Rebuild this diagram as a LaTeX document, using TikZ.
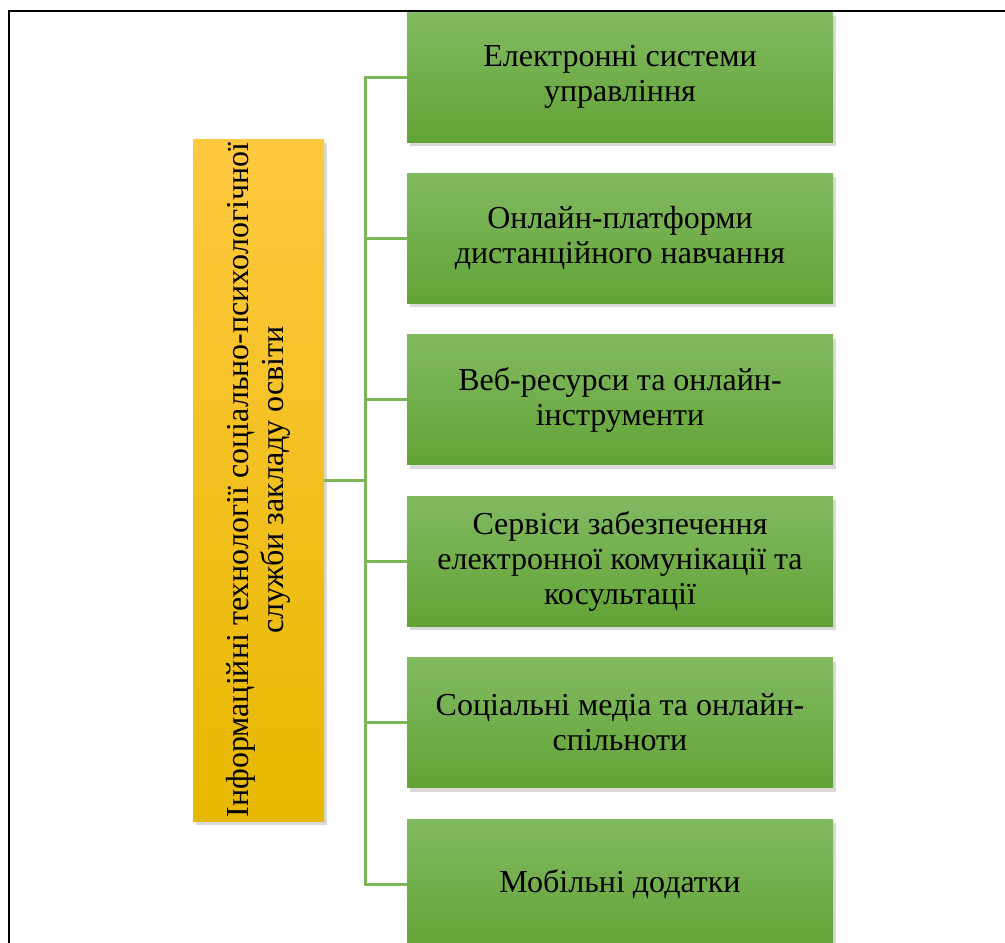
\documentclass[tikz,border=0pt]{standalone}
\usepackage{fontspec}
\setmainfont{Liberation Serif}
\usepackage{graphicx}
\usepackage{tikz}
\usetikzlibrary{shadows}
\definecolor{grtop}{RGB}{130,186,98}
\definecolor{grmid}{RGB}{112,173,71}
\definecolor{grbot}{RGB}{98,163,54}
\definecolor{yltop}{RGB}{255,201,64}
\definecolor{ylmid}{RGB}{255,192,0}
\definecolor{ylbot}{RGB}{230,184,0}
\definecolor{linkgreen}{RGB}{122,181,88}

\begin{document}
\begin{tikzpicture}[x=1pt,y=-1pt,
    boxfont/.style={font=\fontsize{32}{35}\selectfont},
    grbox/.style={boxfont,minimum width=426pt,minimum height=130pt,inner sep=0pt,align=center,
      top color=grtop,middle color=grmid,bottom color=grbot,
      drop shadow={shadow xshift=3pt,shadow yshift=-4pt,opacity=.3}},
    ylbox/.style={boxfont,minimum width=131pt,minimum height=682pt,inner sep=0pt,
      top color=yltop,middle color=ylmid,bottom color=ylbot,
      drop shadow={shadow xshift=3pt,shadow yshift=-4pt,opacity=.3}},
    link/.style={draw=linkgreen,line width=3pt}]
    \useasboundingbox (0,0) rectangle (1005,943);
    \clip (0,0) rectangle (1005,943);
    \node[ylbox] (root) at (258.5,480) {\rotatebox{90}{\begin{tabular}{@{}c@{}}Інформаційні технології соціально-психологічної\\служби закладу освіти\end{tabular}}};
    \foreach \n/\y/\txt in {b1/77/{Електронні системи\\управління},
        b2/238.4/{Онлайн-платформи\\дистанційного навчання},
        b3/399.8/{Веб-ресурси та онлайн-\\інструменти},
        b4/561.2/{Сервіси забезпечення\\електронної комунікації та\\косультації},
        b5/722.6/{Соціальні медіа та онлайн-\\спільноти},
        b6/884/{Мобільні додатки}}
      \node[grbox] (\n) at (620,\y) {\txt};
    \coordinate (trunk) at (365,480);
    \draw[link] (root.east) -- (trunk);
    \draw[link] (b1.west) -| (trunk) |- (b6.west);
    \foreach \n in {b2,b3,b4,b5}
      \draw[link] (trunk |- \n.west) -- (\n.west);
    \draw[line width=2pt] (9,943) -- (9,11) -- (1005,11);
\end{tikzpicture}
\end{document}
